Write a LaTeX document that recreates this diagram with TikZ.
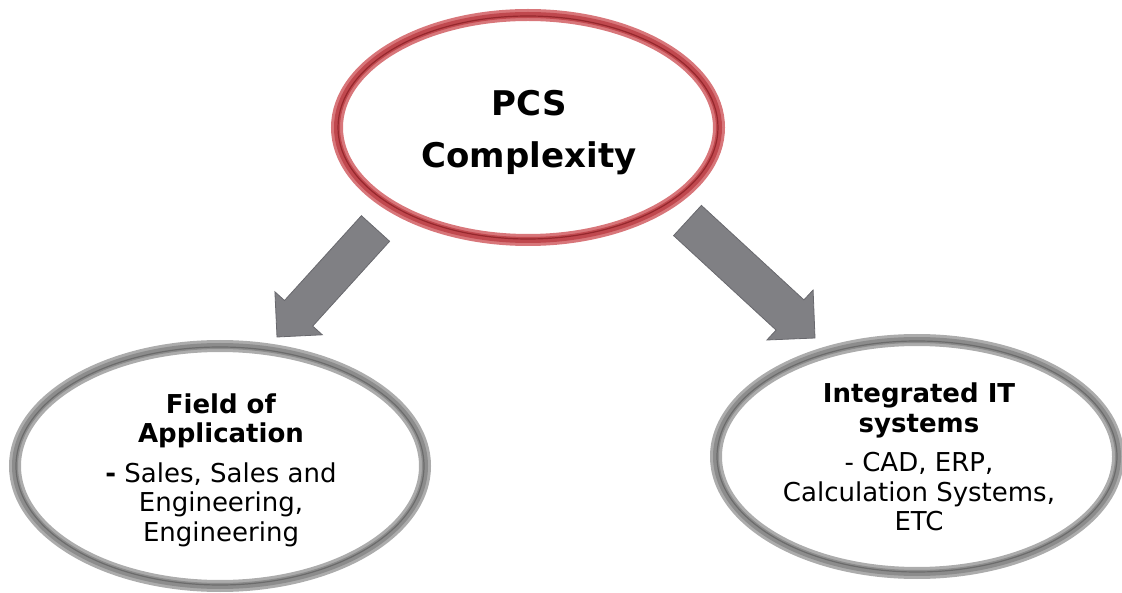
\documentclass[tikz,border=0pt]{standalone}
\usepackage{fontspec}
\setmainfont{DejaVu Sans}
\definecolor{redA}{RGB}{216,118,122}
\definecolor{redB}{RGB}{192,72,78}
\definecolor{redC}{RGB}{150,40,45}
\definecolor{grayA}{RGB}{172,172,172}
\definecolor{grayB}{RGB}{140,140,140}
\definecolor{grayC}{RGB}{108,108,108}
\definecolor{arrowfill}{RGB}{128,128,132}
\definecolor{arrowedge}{RGB}{105,105,110}
\tikzset{
  ringA/.style={line width=12pt, draw=redA},
  ringB/.style={line width=6pt, draw=redB},
  ringC/.style={line width=1.2pt, draw=redC},
  gringA/.style={line width=12pt, draw=grayA},
  gringB/.style={line width=6pt, draw=grayB},
  gringC/.style={line width=1.2pt, draw=grayC},
  toptext/.style={align=center, font=\fontsize{34}{52}\selectfont\bfseries, inner sep=0},
  subtext/.style={align=center, font=\fontsize{26}{29.5}\selectfont, inner sep=0},
  blockarrow/.style={fill=arrowfill, draw=arrowedge, line width=0.8pt, line join=miter},
}
\begin{document}
\begin{tikzpicture}[x=1pt, y=-1pt]
\useasboundingbox (0,0) rectangle (1122,593);
% top ellipse
\coordinate (pcsc) at (528,127.5);
\node[toptext] (pcs) at (529,133) {PCS\\Complexity};
\draw[ringA] (pcsc) ellipse [x radius=191pt, y radius=112.5pt];
\draw[ringB] (pcsc) ellipse [x radius=191pt, y radius=112.5pt];
\draw[ringC] (pcsc) ellipse [x radius=190pt, y radius=111.5pt];
% left ellipse
\coordinate (fieldc) at (220,466);
\node[subtext] (field) at (221,470) {\textbf{Field of}\\\textbf{Application}\\[10pt]\textbf{-} Sales, Sales and\\Engineering,\\Engineering};
\draw[gringA] (fieldc) ellipse [x radius=205pt, y radius=120pt];
\draw[gringB] (fieldc) ellipse [x radius=205pt, y radius=120pt];
\draw[gringC] (fieldc) ellipse [x radius=204pt, y radius=119pt];
% right ellipse
\coordinate (itc) at (917,456.5);
\node[subtext] (it) at (919,457) {\textbf{Integrated IT}\\\textbf{systems}\\[10pt]- CAD, ERP,\\Calculation Systems,\\ETC};
\draw[gringA] (itc) ellipse [x radius=201pt, y radius=116.5pt];
\draw[gringB] (itc) ellipse [x radius=201pt, y radius=116.5pt];
\draw[gringC] (itc) ellipse [x radius=200pt, y radius=115.5pt];
% arrows
\coordinate (la) at (277,337);
\coordinate (ra) at (815,338);
\draw[blockarrow] (389.6,241.3) -- (312.7,326.1) -- (322.3,334.8) -- (la)
  -- (274.9,291.8) -- (284.5,300.5) -- (361.4,215.7) -- cycle;
\draw[blockarrow] (701.4,205.4) -- (803.9,299.9) -- (813.1,290.0) -- (ra)
  -- (766.9,340.0) -- (776.1,330.1) -- (673.6,235.6) -- cycle;
\end{tikzpicture}
\end{document}
